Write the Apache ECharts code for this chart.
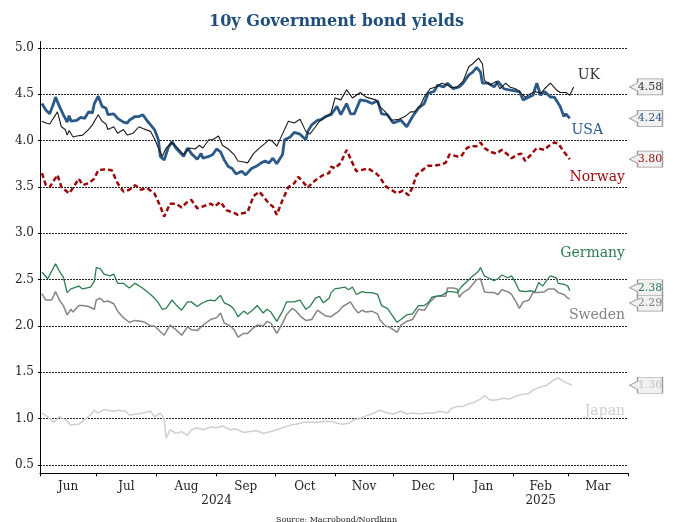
<!DOCTYPE html>
<html><head><meta charset="utf-8">
<script src="https://cdn.jsdelivr.net/npm/echarts@6/dist/echarts.min.js"></script>
<style>html,body{margin:0;padding:0;background:#fff}#c{width:673px;height:522px}</style>
</head><body><div id="c"></div>
<script>
// x values are days counted from 2024-06-02
const X_MIN_DAY = 0, X_MAX_DAY = 303;
const monthLabels = ['Jun','Jul','Aug','Sep','Oct','Nov','Dec','Jan','Feb','Mar'];
const monthStartDays = [0,29,60,91,121,152,182,213,244,272,303];
const yearLabels = ['2024','2025'];
const yearLabelDays = [91,258];
const yearStartDays = [213];
const yTicks = [0.5,1.0,1.5,2.0,2.5,3.0,3.5,4.0,4.5,5.0];
const seriesNames = ['UK','USA','Norway','Germany','Sweden','Japan'];

const uk = [[1,4.21],[3,4.19],[5,4.18],[9,4.31],[11,4.15],[13,4.12],[14,4.06],[15,4.11],[17,4.04],[19,4.05],[22,4.06],[25,4.12],[27,4.17],[30,4.28],[32,4.21],[34,4.18],[35,4.12],[38,4.15],[40,4.08],[43,4.12],[45,4.06],[48,4.08],[51,4.15],[53,4.13],[57,4.10],[59,4.02],[61,3.92],[63,3.83],[65,3.92],[68,3.98],[71,3.92],[74,3.85],[77,3.92],[80,3.91],[82,3.95],[84,3.92],[87,4.01],[89,4.01],[92,4.05],[94,3.95],[97,3.91],[100,3.85],[102,3.78],[105,3.77],[107,3.76],[110,3.86],[113,3.92],[116,3.97],[118,4.01],[120,3.99],[122,3.94],[124,4.03],[125,4.04],[128,4.21],[131,4.19],[134,4.23],[137,4.10],[139,4.07],[142,4.15],[144,4.21],[147,4.25],[150,4.30],[152,4.46],[155,4.44],[158,4.55],[161,4.46],[165,4.52],[168,4.47],[173,4.44],[175,4.37],[178,4.31],[181,4.22],[185,4.23],[188,4.26],[191,4.31],[193,4.31],[196,4.38],[198,4.47],[201,4.56],[204,4.58],[207,4.62],[210,4.60],[212,4.57],[215,4.58],[218,4.64],[221,4.80],[223,4.83],[226,4.89],[228,4.83],[229,4.65],[232,4.60],[235,4.64],[237,4.56],[240,4.62],[242,4.58],[245,4.56],[247,4.53],[250,4.47],[253,4.51],[255,4.53],[258,4.51],[260,4.56],[263,4.62],[266,4.55],[268,4.52],[271,4.52],[273,4.49],[275,4.58]];

const usa = [[1,4.40],[3,4.33],[5,4.29],[7,4.40],[8,4.47],[10,4.37],[12,4.28],[14,4.20],[15,4.27],[16,4.21],[19,4.22],[21,4.25],[23,4.24],[25,4.31],[27,4.30],[28,4.40],[30,4.48],[32,4.37],[34,4.35],[35,4.28],[38,4.29],[40,4.24],[43,4.20],[45,4.19],[46,4.22],[49,4.26],[51,4.26],[53,4.28],[55,4.22],[57,4.17],[59,4.12],[61,4.01],[62,3.83],[64,3.79],[66,3.92],[68,3.99],[70,3.92],[74,3.83],[76,3.92],[78,3.86],[81,3.80],[83,3.86],[84,3.81],[87,3.83],[89,3.85],[91,3.91],[93,3.88],[95,3.79],[97,3.72],[99,3.70],[101,3.64],[104,3.67],[106,3.63],[109,3.70],[112,3.73],[114,3.76],[116,3.78],[118,3.76],[120,3.81],[122,3.75],[125,3.85],[126,4.01],[129,4.04],[131,4.09],[134,4.07],[137,4.01],[138,4.10],[140,4.17],[143,4.22],[145,4.23],[147,4.26],[150,4.28],[151,4.28],[153,4.37],[155,4.28],[158,4.40],[160,4.29],[162,4.29],[165,4.44],[168,4.43],[171,4.40],[174,4.43],[176,4.29],[179,4.28],[182,4.19],[186,4.22],[189,4.15],[192,4.26],[195,4.35],[198,4.40],[200,4.51],[203,4.53],[205,4.60],[208,4.58],[210,4.62],[213,4.56],[216,4.58],[218,4.62],[221,4.71],[223,4.74],[225,4.79],[227,4.74],[228,4.62],[231,4.62],[234,4.58],[236,4.64],[239,4.56],[241,4.55],[244,4.54],[247,4.53],[249,4.44],[252,4.47],[254,4.49],[256,4.62],[258,4.49],[260,4.53],[263,4.47],[265,4.47],[268,4.37],[270,4.26],[271,4.29],[273,4.24]];

const norway = [[1,3.65],[3,3.52],[5,3.50],[9,3.63],[11,3.50],[15,3.43],[17,3.49],[20,3.59],[22,3.52],[25,3.54],[28,3.59],[30,3.68],[33,3.69],[37,3.68],[40,3.54],[43,3.45],[46,3.47],[49,3.52],[52,3.47],[55,3.49],[59,3.43],[62,3.29],[64,3.18],[67,3.32],[70,3.32],[73,3.28],[76,3.34],[78,3.36],[81,3.27],[84,3.29],[88,3.32],[90,3.29],[93,3.34],[96,3.25],[100,3.22],[102,3.20],[105,3.22],[107,3.23],[110,3.40],[113,3.45],[115,3.40],[118,3.32],[120,3.29],[122,3.20],[125,3.36],[128,3.50],[131,3.54],[133,3.61],[135,3.57],[138,3.49],[140,3.54],[143,3.59],[146,3.63],[149,3.65],[150,3.72],[152,3.70],[155,3.76],[158,3.90],[161,3.76],[163,3.67],[167,3.69],[169,3.70],[173,3.65],[175,3.61],[178,3.51],[181,3.47],[184,3.43],[187,3.46],[190,3.41],[192,3.50],[194,3.63],[197,3.68],[200,3.73],[203,3.73],[206,3.74],[209,3.76],[211,3.85],[215,3.83],[217,3.83],[220,3.92],[222,3.94],[225,3.94],[227,3.98],[229,3.92],[232,3.88],[235,3.86],[238,3.90],[241,3.85],[243,3.81],[246,3.85],[248,3.86],[250,3.78],[253,3.85],[256,3.92],[260,3.90],[262,3.94],[265,3.98],[267,3.97],[270,3.88],[273,3.80]];

const germany = [[1,2.58],[4,2.51],[6,2.59],[8,2.67],[10,2.59],[12,2.53],[14,2.36],[16,2.40],[17,2.38],[20,2.43],[22,2.40],[26,2.42],[28,2.48],[29,2.63],[31,2.62],[33,2.56],[34,2.58],[36,2.54],[38,2.56],[40,2.46],[43,2.46],[46,2.41],[49,2.46],[52,2.42],[54,2.39],[57,2.34],[59,2.30],[61,2.25],[63,2.18],[65,2.19],[68,2.28],[70,2.23],[71,2.24],[73,2.17],[76,2.26],[78,2.26],[81,2.21],[83,2.24],[86,2.27],[88,2.28],[90,2.27],[93,2.33],[95,2.25],[98,2.22],[100,2.18],[102,2.10],[105,2.16],[107,2.13],[110,2.18],[112,2.22],[115,2.14],[117,2.18],[119,2.15],[122,2.05],[125,2.16],[127,2.26],[131,2.26],[134,2.28],[137,2.18],[139,2.21],[142,2.30],[144,2.32],[146,2.25],[149,2.30],[150,2.36],[152,2.40],[155,2.41],[157,2.42],[159,2.39],[161,2.42],[163,2.34],[166,2.37],[168,2.36],[171,2.36],[174,2.34],[176,2.22],[179,2.19],[181,2.13],[184,2.04],[186,2.07],[189,2.12],[192,2.13],[195,2.22],[198,2.22],[200,2.25],[202,2.31],[204,2.32],[207,2.33],[210,2.37],[212,2.37],[215,2.36],[217,2.42],[220,2.48],[223,2.54],[226,2.59],[227,2.63],[229,2.54],[231,2.52],[234,2.49],[236,2.51],[238,2.55],[241,2.52],[243,2.54],[245,2.47],[247,2.38],[250,2.37],[253,2.38],[255,2.37],[257,2.47],[259,2.43],[261,2.49],[263,2.54],[266,2.52],[267,2.46],[270,2.45],[272,2.43],[273,2.38]];

const sweden = [[1,2.35],[3,2.28],[6,2.28],[8,2.37],[10,2.28],[12,2.22],[14,2.12],[16,2.18],[17,2.15],[20,2.22],[22,2.22],[25,2.21],[28,2.18],[29,2.28],[31,2.30],[33,2.26],[35,2.27],[38,2.24],[40,2.16],[43,2.09],[46,2.04],[49,2.06],[52,2.05],[54,2.04],[57,2.00],[59,2.00],[61,1.96],[64,1.90],[65,1.92],[67,2.01],[70,1.96],[73,1.90],[76,1.99],[78,1.96],[81,1.95],[83,1.99],[86,2.04],[88,2.07],[91,2.09],[93,2.14],[95,2.03],[98,2.00],[100,1.96],[102,1.88],[105,1.92],[107,1.92],[110,1.98],[112,2.01],[115,2.00],[117,2.05],[119,2.03],[122,1.92],[125,2.03],[127,2.12],[130,2.19],[132,2.16],[135,2.09],[137,2.06],[140,2.07],[143,2.17],[144,2.17],[147,2.11],[150,2.10],[151,2.09],[154,2.16],[156,2.21],[160,2.26],[162,2.19],[164,2.14],[166,2.17],[168,2.15],[171,2.16],[174,2.13],[175,2.07],[178,2.00],[180,1.99],[182,1.96],[184,1.93],[186,2.01],[189,2.05],[192,2.07],[195,2.18],[198,2.17],[201,2.26],[204,2.32],[206,2.32],[209,2.32],[210,2.41],[213,2.41],[215,2.40],[216,2.31],[218,2.36],[221,2.40],[223,2.45],[225,2.50],[227,2.51],[229,2.37],[231,2.36],[234,2.36],[236,2.34],[238,2.39],[241,2.37],[243,2.34],[245,2.27],[247,2.19],[249,2.26],[252,2.28],[254,2.36],[257,2.36],[260,2.37],[262,2.40],[265,2.40],[267,2.36],[270,2.34],[272,2.30],[273,2.29]];

const japan = [[1,1.06],[4,1.02],[7,0.96],[10,1.02],[13,0.99],[16,0.93],[20,0.94],[23,0.99],[26,1.04],[28,1.09],[30,1.06],[33,1.10],[35,1.09],[38,1.08],[40,1.09],[44,1.08],[46,1.04],[50,1.05],[53,1.06],[57,1.08],[59,1.02],[62,1.06],[64,1.00],[65,0.79],[67,0.88],[70,0.84],[73,0.86],[76,0.82],[78,0.88],[81,0.90],[84,0.88],[88,0.91],[91,0.90],[94,0.92],[98,0.88],[101,0.89],[105,0.85],[108,0.86],[112,0.87],[115,0.84],[119,0.86],[122,0.88],[125,0.90],[129,0.93],[132,0.94],[136,0.96],[139,0.96],[143,0.96],[146,0.97],[150,0.97],[153,0.95],[156,0.94],[159,0.95],[162,0.99],[165,1.00],[168,1.03],[171,1.05],[175,1.09],[179,1.06],[182,1.05],[186,1.08],[189,1.05],[192,1.06],[196,1.05],[199,1.06],[203,1.06],[206,1.08],[210,1.06],[212,1.11],[215,1.13],[218,1.13],[221,1.16],[223,1.17],[227,1.21],[229,1.25],[232,1.20],[235,1.20],[239,1.22],[242,1.21],[245,1.24],[248,1.26],[252,1.27],[254,1.31],[258,1.34],[261,1.36],[265,1.42],[267,1.44],[270,1.40],[272,1.38],[274,1.36]];

const SERIF = '"DejaVu Serif", "Liberation Serif", serif';
const monthLabelDays = monthLabels.map((m, i) => (monthStartDays[i] + monthStartDays[i + 1]) / 2);

function pickLabel(days, labels) {
  return function (v) {
    const i = days.findIndex(d => Math.abs(d - v) < 0.01);
    return i >= 0 ? labels[i] : '';
  };
}

function tag(data, textColor, dy) {
  const last = data[data.length - 1];
  return {
    silent: true,
    symbol: 'path://M8,0 L33,0 L33,16 L8,16 L8,12 L0,8 L8,4 Z',
    symbolSize: [33, 16],
    symbolOffset: [18, dy],
    itemStyle: { color: '#f1f1f1', borderColor: '#9a9a9a', borderWidth: 1 },
    label: { show: true, position: 'inside', offset: [4, 0], color: textColor,
      fontFamily: SERIF, fontSize: 11, formatter: last[1].toFixed(2) },
    data: [{ coord: [X_MAX_DAY, last[1]] }]
  };
}

function line(name, data, color, width, dash, textColor, dy, z) {
  return {
    name, type: 'line', data, showSymbol: false, z,
    lineStyle: { color, width, type: dash || 'solid' },
    itemStyle: { color },
    markPoint: tag(data, textColor, dy)
  };
}

const chart = echarts.init(document.getElementById('c'), null, { renderer: 'canvas' });
chart.setOption({
  animation: false,
  backgroundColor: '#fff',
  title: [
    { text: '10y Government bond yields', left: 'center', top: 9,
      textStyle: { fontFamily: SERIF, fontWeight: 'bold', fontSize: 16, color: '#1f4e7a' } },
    { text: 'Source: Macrobond/Nordkinn', left: 'center', top: 511,
      textStyle: { fontFamily: SERIF, fontWeight: 'normal', fontSize: 8, color: '#222' } }
  ],
  grid: { left: 40, right: 45, top: 41.5, bottom: 48.7, containLabel: false },
  xAxis: [
    { type: 'value', min: X_MIN_DAY, max: X_MAX_DAY, position: 'bottom',
      axisLine: { show: true, lineStyle: { color: '#000', width: 1 } },
      axisTick: { show: true, customValues: monthStartDays, length: 3, inside: false, lineStyle: { color: '#000' } },
      axisLabel: { customValues: monthLabelDays, formatter: pickLabel(monthLabelDays, monthLabels),
        margin: 8, fontFamily: SERIF, fontSize: 12, color: '#222' },
      splitLine: { show: false } },
    { type: 'value', min: X_MIN_DAY, max: X_MAX_DAY, position: 'bottom', offset: 14,
      axisLine: { show: false }, axisTick: { show: false },
      axisLabel: { customValues: yearLabelDays, formatter: pickLabel(yearLabelDays, yearLabels),
        margin: 8, fontFamily: SERIF, fontSize: 12, color: '#222' },
      splitLine: { show: false } },
    { type: 'value', min: X_MIN_DAY, max: X_MAX_DAY, position: 'bottom',
      axisLine: { show: false },
      axisTick: { show: true, customValues: yearStartDays, length: 7, lineStyle: { color: '#000' } },
      axisLabel: { show: false }, splitLine: { show: false } }
  ],
  yAxis: {
    type: 'value', min: 0.41, max: 5.07,
    axisLine: { show: true, lineStyle: { color: '#000', width: 1 } },
    axisTick: { show: true, customValues: yTicks, length: 2, lineStyle: { color: '#000' } },
    axisLabel: { customValues: yTicks, formatter: v => v.toFixed(1), margin: 6,
      fontFamily: SERIF, fontSize: 12, color: '#222' },
    splitLine: { show: true, lineStyle: { color: '#222', width: 1, type: [2, 1] } }
  },
  series: [
    line('Japan', japan, '#cfcfcf', 1.5, null, '#c4c4c4', 0, 2),
    line('Sweden', sweden, '#858585', 1.5, null, '#858585', 4, 3),
    line('Germany', germany, '#2e7d50', 1.3, null, '#2e7d50', -3, 4),
    line('Norway', norway, '#9b0a0a', 2.5, [5, 3], '#9b0a0a', 0, 5),
    line('USA', usa, '#2b5a88', 2.8, null, '#2b5a88', 0, 6),
    line('UK', uk, '#1a1a1a', 1.1, null, '#333333', 0, 7)
  ],
  graphic: [
    { type: 'text', style: { text: seriesNames[0], x: 600, y: 75, align: 'right', verticalAlign: 'middle', font: '14px ' + SERIF, fill: '#333' } },
    { type: 'text', style: { text: seriesNames[1], x: 603, y: 130, align: 'right', verticalAlign: 'middle', font: '14px ' + SERIF, fill: '#2b5a88' } },
    { type: 'text', style: { text: seriesNames[2], x: 625, y: 177, align: 'right', verticalAlign: 'middle', font: '14px ' + SERIF, fill: '#9b0a0a' } },
    { type: 'text', style: { text: seriesNames[3], x: 625, y: 253, align: 'right', verticalAlign: 'middle', font: '14px ' + SERIF, fill: '#2e7d50' } },
    { type: 'text', style: { text: seriesNames[4], x: 625, y: 315, align: 'right', verticalAlign: 'middle', font: '14px ' + SERIF, fill: '#858585' } },
    { type: 'text', style: { text: seriesNames[5], x: 625, y: 411, align: 'right', verticalAlign: 'middle', font: '14px ' + SERIF, fill: '#cfcfcf' } }
  ]
});
</script></body></html>
